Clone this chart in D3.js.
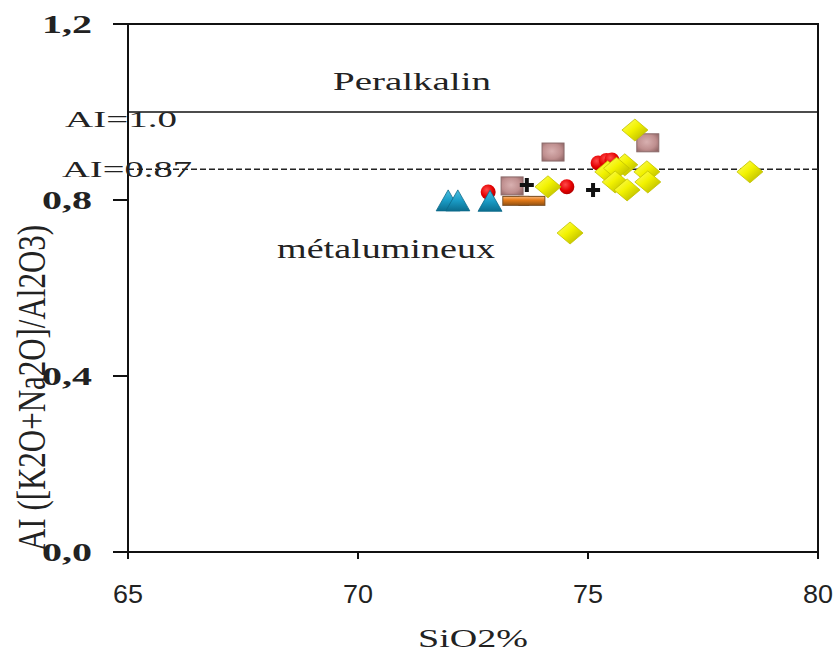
<!DOCTYPE html>
<html>
<head>
<meta charset="utf-8">
<script src="https://cdnjs.cloudflare.com/ajax/libs/d3/7.8.5/d3.min.js"></script>
<style>
  html, body { margin: 0; padding: 0; background: #fff; }
  svg { display: block; }
</style>
</head>
<body>
<svg id="chart" width="835" height="652"></svg>
<script>
// Axis ticks
const xTicks = [65, 70, 75, 80];
const yTicks = [0, 0.4, 0.8, 1.2];
const yTickLabels = ["0,0", "0,4", "0,8", "1,2"];

// Reference lines (alkalinity index)
const refLines = [1.0, 0.87];

// Sample groups: SiO2 (%) and AI
const diamondSi = [74.13, 74.61, 76.02, 75.43, 75.80, 75.62, 76.28, 75.59, 76.30, 75.85, 78.52];
const diamondAI = [0.830, 0.725, 0.959, 0.864, 0.880, 0.872, 0.864, 0.841, 0.841, 0.823, 0.864];

const circleSi = [72.83, 74.54, 75.22, 75.40, 75.52];
const circleAI = [0.818, 0.830, 0.884, 0.890, 0.891];

const squareSi = [73.35, 74.24, 76.30];
const squareAI = [0.832, 0.909, 0.930];

const triangleSi = [71.96, 72.17, 72.87];
const triangleAI = [0.798, 0.798, 0.797];

const dashSi = [73.43, 73.78];
const dashAI = [0.798, 0.798];

const crossSi = [73.67, 75.11];
const crossAI = [0.834, 0.823];

const svg = d3.select("#chart");
const x = d3.scaleLinear().domain([65, 80]).range([128, 818]);
const y = d3.scaleLinear().domain([0, 1.2]).range([552, 24]);

const serif = "'Liberation Serif', 'Times New Roman', serif";

// Gradients for the shaded markers
const defs = svg.append("defs");
function linGrad(id, x1, y1, x2, y2, stops) {
  const g = defs.append("linearGradient").attr("id", id)
    .attr("x1", x1).attr("y1", y1).attr("x2", x2).attr("y2", y2);
  stops.forEach(s => g.append("stop").attr("offset", s[0]).attr("stop-color", s[1]));
}
function radGrad(id, cx, cy, r, stops) {
  const g = defs.append("radialGradient").attr("id", id)
    .attr("cx", cx).attr("cy", cy).attr("r", r);
  stops.forEach(s => g.append("stop").attr("offset", s[0]).attr("stop-color", s[1]));
}
linGrad("gDiamond", "0", "0", "1", "1", [["0", "#ffff70"], ["0.45", "#f2f200"], ["1", "#a9a900"]]);
radGrad("gSquare", "0.45", "0.45", "0.7", [["0", "#d8b0b0"], ["0.6", "#bf8f8f"], ["1", "#8f6464"]]);
linGrad("gTriangle", "0", "0", "0", "1", [["0", "#4cc0e0"], ["0.5", "#1a9cc6"], ["1", "#0b6d8e"]]);
radGrad("gCircle", "0.4", "0.35", "0.7", [["0", "#ff4a4a"], ["0.6", "#e40000"], ["1", "#a80000"]]);
linGrad("gDash", "0", "0", "0", "1", [["0", "#f7b070"], ["0.4", "#e47a18"], ["1", "#9a5512"]]);

// Plot frame
svg.append("rect")
  .attr("x", x(65)).attr("y", y(1.2))
  .attr("width", x(80) - x(65)).attr("height", y(0) - y(1.2))
  .attr("fill", "none").attr("stroke", "#111").attr("stroke-width", 2);

// Y axis ticks and labels
svg.append("g").selectAll("line").data(yTicks).join("line")
  .attr("x1", x(65) - 15).attr("x2", x(65))
  .attr("y1", d => y(d)).attr("y2", d => y(d))
  .attr("stroke", "#111").attr("stroke-width", 2);
svg.append("g").selectAll("text").data(yTicks).join("text")
  .attr("x", 92).attr("y", d => y(d) + 9)
  .attr("text-anchor", "end")
  .attr("font-family", serif).attr("font-weight", "bold").attr("font-size", 25)
  .attr("textLength", 50).attr("lengthAdjust", "spacingAndGlyphs")
  .attr("fill", "#222")
  .text((d, i) => yTickLabels[i]);

// X axis ticks and labels
svg.append("g").selectAll("line").data(xTicks).join("line")
  .attr("x1", d => x(d)).attr("x2", d => x(d))
  .attr("y1", y(0)).attr("y2", y(0) + 7)
  .attr("stroke", "#111").attr("stroke-width", 2);
svg.append("g").selectAll("text").data(xTicks).join("text")
  .attr("x", d => x(d)).attr("y", 603)
  .attr("text-anchor", "middle")
  .attr("font-family", "'Liberation Sans', Arial, sans-serif").attr("font-size", 26)
  .attr("textLength", 30).attr("lengthAdjust", "spacingAndGlyphs")
  .attr("fill", "#222")
  .text(d => d);

// Axis titles
svg.append("text")
  .attr("x", (x(65) + x(80)) / 2).attr("y", 647)
  .attr("text-anchor", "middle")
  .attr("font-family", serif).attr("font-size", 26)
  .attr("textLength", 110).attr("lengthAdjust", "spacingAndGlyphs")
  .attr("fill", "#222")
  .text("SiO2%");
svg.append("g")
  .attr("transform", "translate(45,388) scale(1.3,1)")
  .append("text")
  .attr("transform", "rotate(-90)")
  .attr("text-anchor", "middle")
  .attr("font-family", serif).attr("font-size", 30)
  .attr("textLength", 326).attr("lengthAdjust", "spacingAndGlyphs")
  .attr("fill", "#222")
  .text("AI ([K2O+Na2O]/Al2O3)");

// AI reference lines
svg.append("line")
  .attr("x1", x(65)).attr("x2", x(80))
  .attr("y1", y(refLines[0])).attr("y2", y(refLines[0]))
  .attr("stroke", "#111").attr("stroke-width", 1.6);
svg.append("line")
  .attr("x1", x(65)).attr("x2", x(80))
  .attr("y1", y(refLines[1])).attr("y2", y(refLines[1]))
  .attr("stroke", "#222").attr("stroke-width", 1.4)
  .attr("stroke-dasharray", "6,3");

// Field and line annotations
function label(txt, x0, base, size, len) {
  svg.append("text")
    .attr("x", x0).attr("y", base)
    .attr("font-family", serif).attr("font-size", size)
    .attr("textLength", len).attr("lengthAdjust", "spacingAndGlyphs")
    .attr("fill", "#222")
    .text(txt);
}
label("Peralkalin", 333, 90, 25, 158);
label("métalumineux", 277, 258, 27, 218);
label("AI=1.0", 65, 127, 23, 112);
label("AI=0.87", 62, 177, 23, 130);

// Markers
const pts = (xs, ys) => xs.map((v, i) => [v, ys[i]]);

svg.append("g").selectAll("circle").data(pts(circleSi, circleAI)).join("circle")
  .attr("cx", d => x(d[0])).attr("cy", d => y(d[1])).attr("r", 7.5)
  .attr("fill", "url(#gCircle)");

svg.append("g").selectAll("rect").data(pts(squareSi, squareAI)).join("rect")
  .attr("x", d => x(d[0]) - 11).attr("y", d => y(d[1]) - 9)
  .attr("width", 22).attr("height", 18)
  .attr("fill", "url(#gSquare)").attr("stroke", "#8a6a6a").attr("stroke-width", 1);

// Dash markers: outlines first, fills on top so overlapping dashes merge
const dashG = svg.append("g");
dashG.selectAll("rect.outline").data(pts(dashSi, dashAI)).join("rect")
  .attr("class", "outline")
  .attr("x", d => x(d[0]) - 13.5).attr("y", d => y(d[1]) - 5)
  .attr("width", 27).attr("height", 10)
  .attr("fill", "#7a4e22");
dashG.selectAll("rect.body").data(pts(dashSi, dashAI)).join("rect")
  .attr("class", "body")
  .attr("x", d => x(d[0]) - 12.5).attr("y", d => y(d[1]) - 4)
  .attr("width", 25).attr("height", 8)
  .attr("fill", "url(#gDash)");

svg.append("g").selectAll("path").data(pts(triangleSi, triangleAI)).join("path")
  .attr("transform", d => `translate(${x(d[0])},${y(d[1])})`)
  .attr("d", "M0,-11 L12,10 L-12,10 Z")
  .attr("fill", "url(#gTriangle)").attr("stroke", "#0b6a8a").attr("stroke-width", 0.8);

svg.append("g").selectAll("path").data(pts(crossSi, crossAI)).join("path")
  .attr("transform", d => `translate(${x(d[0])},${y(d[1])})`)
  .attr("d", "M-7,-2 H-2 V-7 H2 V-2 H7 V2 H2 V7 H-2 V2 H-7 Z")
  .attr("fill", "#111");

svg.append("g").selectAll("path").data(pts(diamondSi, diamondAI)).join("path")
  .attr("transform", d => `translate(${x(d[0])},${y(d[1])})`)
  .attr("d", "M0,-11 L13,0 L0,11 L-13,0 Z")
  .attr("fill", "url(#gDiamond)").attr("stroke", "#c2c200").attr("stroke-width", 0.8);
</script>
</body>
</html>
